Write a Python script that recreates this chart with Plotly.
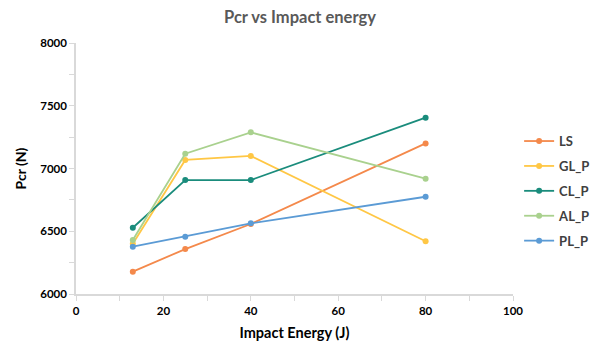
import plotly.graph_objects as go

energy = [13, 25, 40, 80]
series_names = ["LS", "GL_P", "CL_P", "AL_P", "PL_P"]
ls = [6178, 6358, 6558, 7200]
gl_p = [6401, 7068, 7100, 6420]
cl_p = [6528, 6908, 6908, 7405]
al_p = [6430, 7118, 7288, 6919]
pl_p = [6377, 6457, 6563, 6775]
colors = ["#F4894B", "#FFC745", "#1A8C7C", "#A9D18E", "#5B9BD5"]

fig = go.Figure()
for name, vals, c in zip(series_names, [ls, gl_p, cl_p, al_p, pl_p], colors):
    fig.add_trace(go.Scatter(x=energy, y=vals, name="<b>" + name + "</b>", legendgroup=name,
                             mode="lines+markers",
                             line=dict(color=c, width=1.8),
                             marker=dict(color=c, size=6)))

font = "Lato, Open Sans, sans-serif"
fig.update_layout(
    width=600, height=353,
    margin=dict(l=76, r=87, t=43, b=59, autoexpand=False),
    plot_bgcolor="white", paper_bgcolor="white",
    title=dict(text="<b>Pcr vs Impact energy</b>", x=0.5, xanchor="center", y=0.95, yanchor="middle",
               font=dict(family=font, size=16.5, color="#595959")),
    font=dict(family=font, color="black"),
    legend=dict(x=1.014, xanchor="left", y=0.41, yanchor="middle", tracegroupgap=5,
                font=dict(family=font, size=13, color="#404040"),
                bgcolor="rgba(0,0,0,0)"),
    showlegend=True,
)
fig.update_xaxes(range=[0, 100], dtick=20, tick0=0, showgrid=False, zeroline=False,
                 showline=True, linecolor="#D9D9D9", linewidth=1.5,
                 ticks="outside", ticklen=5, tickcolor="#D9D9D9",
                 minor=dict(dtick=10, ticks="outside", ticklen=5, tickcolor="#D9D9D9"),
                 tickfont=dict(family=font, size=11.5, color="black"),
                 tickprefix="<b>", ticksuffix="</b>",
                 title=dict(text="<b>Impact Energy (J)</b>", font=dict(family=font, size=14.5, color="black"), standoff=12))
fig.update_yaxes(range=[6000, 8000], dtick=500, showgrid=False, zeroline=False,
                 showline=True, linecolor="#D9D9D9", linewidth=1.5,
                 ticks="outside", ticklen=5, tickcolor="#D9D9D9",
                 minor=dict(dtick=250, ticks="outside", ticklen=5, tickcolor="#D9D9D9"),
                 tickfont=dict(family=font, size=11.5, color="black"),
                 tickformat="d", tickprefix="<b>", ticksuffix="</b>",
                 title=dict(text="<b>Pcr (N)</b>", font=dict(family=font, size=14, color="black"), standoff=10))
fig.write_html("out.html")
